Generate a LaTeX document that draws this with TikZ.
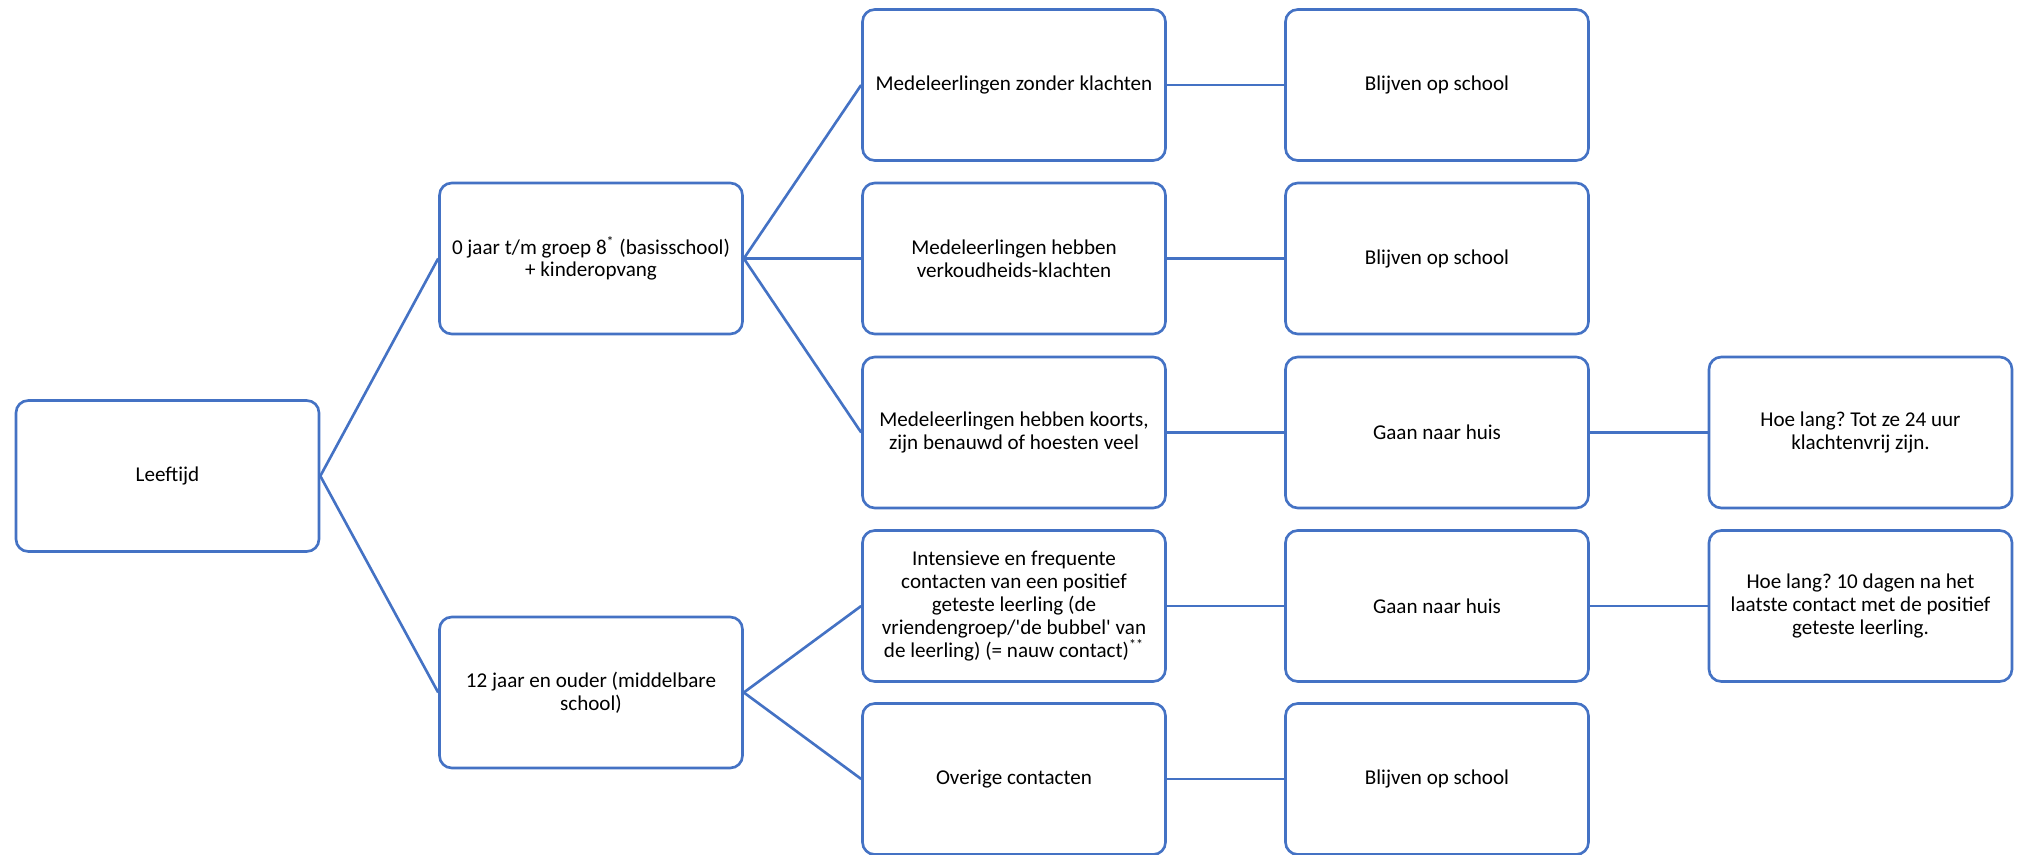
\documentclass[tikz,border=0pt]{standalone}
\usepackage{fontspec}
\setmainfont{Carlito}
\frenchspacing
\definecolor{boxblue}{HTML}{4472C4}
\begin{document}
\begin{tikzpicture}[
    box/.style={draw=boxblue, line width=1.5pt, rounded corners=7pt,
        minimum width=6.06cm, minimum height=3.02cm, inner sep=0pt,
        align=center, font=\fontsize{12}{13}\selectfont},
    link/.style={draw=boxblue, line width=1.5pt}]
    \useasboundingbox (0,0) rectangle (40.4,-17.1);

    \node[box] (leeftijd) at (3.35,-9.52) {Leeftijd};

    \node[box] (basis) at (11.82,-5.17) {0 jaar t/m groep 8\textsuperscript{*} (basisschool)\\+ kinderopvang};
    \node[box] (middelbaar) at (11.82,-13.85) {12 jaar en ouder (middelbare\\school)};

    \node[box] (zonder) at (20.28,-1.70) {Medeleerlingen zonder klachten};
    \node[box] (verkoud) at (20.28,-5.17) {Medeleerlingen hebben\\verkoudheids-klachten};
    \node[box] (koorts) at (20.28,-8.65) {Medeleerlingen hebben koorts,\\zijn benauwd of hoesten veel};
    \node[box] (nauw) at (20.28,-12.12) {Intensieve en frequente\\contacten van een positief\\geteste leerling (de\\vriendengroep/\textquotesingle de bubbel\textquotesingle{} van\\de leerling) (= nauw contact)\textsuperscript{**}};
    \node[box] (overig) at (20.28,-15.58) {Overige contacten};

    \node[box] (blijf1) at (28.74,-1.70) {Blijven op school};
    \node[box] (blijf2) at (28.74,-5.17) {Blijven op school};
    \node[box] (huis1) at (28.74,-8.65) {Gaan naar huis};
    \node[box] (huis2) at (28.74,-12.12) {Gaan naar huis};
    \node[box] (blijf3) at (28.74,-15.58) {Blijven op school};

    \node[box] (duur1) at (37.21,-8.65) {Hoe lang? Tot ze 24 uur\\klachtenvrij zijn.};
    \node[box] (duur2) at (37.21,-12.12) {Hoe lang? 10 dagen na het\\laatste contact met de positief\\geteste leerling.};

    \draw[link] (leeftijd.east) -- (basis.west);
    \draw[link] (leeftijd.east) -- (middelbaar.west);

    \draw[link] (basis.east) -- (zonder.west);
    \draw[link] (basis.east) -- (verkoud.west);
    \draw[link] (basis.east) -- (koorts.west);
    \draw[link] (middelbaar.east) -- (nauw.west);
    \draw[link] (middelbaar.east) -- (overig.west);

    \draw[link] (zonder.east) -- (blijf1.west);
    \draw[link] (verkoud.east) -- (blijf2.west);
    \draw[link] (koorts.east) -- (huis1.west);
    \draw[link] (nauw.east) -- (huis2.west);
    \draw[link] (overig.east) -- (blijf3.west);

    \draw[link] (huis1.east) -- (duur1.west);
    \draw[link] (huis2.east) -- (duur2.west);
\end{tikzpicture}
\end{document}
